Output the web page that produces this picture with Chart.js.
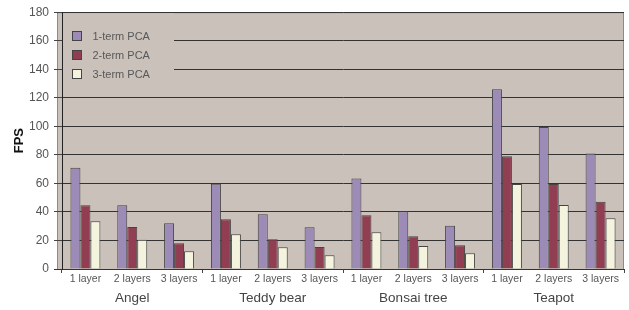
<!DOCTYPE html>
<html>
<head>
<meta charset="utf-8">
<script src="https://cdn.jsdelivr.net/npm/chart.js@4/dist/chart.umd.min.js"></script>
<style>
  html, body { margin: 0; padding: 0; background: #ffffff; }
  #wrap { width: 629px; height: 310px; position: relative; }
</style>
</head>
<body>
<div id="wrap"><canvas id="c" width="629" height="310"></canvas></div>
<script>
// ---- Data ----
const models = ["Angel", "Teddy bear", "Bonsai tree", "Teapot"];
const layers = ["1 layer", "2 layers", "3 layers"];
const seriesNames = ["1-term PCA", "2-term PCA", "3-term PCA"];
const pca1 = [71, 44.6, 32,   59.8, 38.3, 29.2,   63.5, 40.4, 30.3,   126, 99.5, 81];
const pca2 = [44.6, 29.4, 18, 34.8, 20.8, 15.4,   37.6, 22.9, 16.6,   79.1, 59.5, 47.1];
const pca3 = [33.4, 20.5, 12.4, 24.3, 15.2, 9.6,  25.7, 16.1, 11,     59.5, 44.8, 35.5];
const yTicks = [0, 20, 40, 60, 80, 100, 120, 140, 160, 180];

const subLabels = [];
models.forEach(() => layers.forEach(l => subLabels.push(l)));

const colors = ["#9D8BB7", "#913E52", "#F4F4DE"];
const plotBg = "#C9C1BA";
const FONT = "'Liberation Sans', Arial, sans-serif";

const bgPlugin = {
  id: 'bgPlugin',
  beforeDraw(chart) {
    const { ctx, chartArea: a } = chart;
    ctx.save();
    ctx.fillStyle = plotBg;
    ctx.fillRect(58, a.top, a.right - 58, a.bottom - a.top);
    ctx.strokeStyle = "#8a8a8a";
    ctx.lineWidth = 1;
    ctx.beginPath();
    ctx.moveTo(57.5, a.bottom); ctx.lineTo(57.5, a.top + 0.5);
    ctx.lineTo(a.right - 0.5, a.top + 0.5); ctx.lineTo(a.right - 0.5, a.bottom);
    ctx.stroke();
    ctx.restore();
  },
  afterDraw(chart) {
    const { ctx, chartArea: a } = chart;
    ctx.save();
    ctx.strokeStyle = "#333";
    ctx.lineWidth = 1;
    ctx.beginPath();
    ctx.moveTo(54, a.bottom + 0.5); ctx.lineTo(a.left, a.bottom + 0.5);
    ctx.stroke();
    ctx.restore();
  }
};

const legendPlugin = {
  id: 'boxLegend',
  afterDatasetsDraw(chart) {
    const { ctx, chartArea: a } = chart;
    ctx.save();
    ctx.fillStyle = plotBg;
    ctx.fillRect(a.left + 1, a.top + 1, 111, 72);
    chart.data.datasets.forEach((ds, i) => {
      const cy = 36 + i * 19.2;
      ctx.fillStyle = ds.backgroundColor;
      ctx.fillRect(72, Math.round(cy - 5), 10, 10);
      ctx.strokeStyle = "#444";
      ctx.lineWidth = 1;
      ctx.strokeRect(72.5, Math.round(cy - 5) + 0.5, 9, 9);
      ctx.fillStyle = "#595959";
      ctx.font = "11px " + FONT;
      ctx.textBaseline = "middle";
      ctx.textAlign = "left";
      ctx.fillText(ds.label, 92.5, cy + 0.5);
    });
    ctx.restore();
  }
};

const seriesData = [pca1, pca2, pca3];

new Chart(document.getElementById('c'), {
  type: 'bar',
  data: {
    labels: subLabels,
    datasets: seriesNames.map((name, i) => ({
      label: name,
      data: seriesData[i],
      backgroundColor: colors[i],
      borderColor: "#444",
      borderWidth: 1,
      categoryPercentage: 0.64,
      barPercentage: 1.0
    }))
  },
  options: {
    responsive: false,
    animation: false,
    devicePixelRatio: 1,
    layout: { padding: { left: 0, right: 5, top: 12, bottom: 0 } },
    plugins: { legend: { display: false }, tooltip: { enabled: false } },
    scales: {
      x: {
        type: 'category',
        position: 'bottom',
        offset: true,
        afterFit(s) { s.height = 18; },
        grid: {
          offset: true,
          drawOnChartArea: false,
          drawTicks: true,
          tickLength: 4,
          tickColor: (c) => (c.index === undefined || c.index % 3 === 0) ? '#444' : 'rgba(0,0,0,0)'
        },
        border: { display: true, color: '#333', width: 1 },
        ticks: {
          maxRotation: 0, autoSkip: false, padding: 0,
          color: '#555', font: { family: FONT, size: 10.5 }
        }
      },
      x2: {
        type: 'category',
        position: 'bottom',
        labels: models,
        offset: true,
        afterFit(s) { s.height = 23; },
        grid: { display: false, drawTicks: false, drawOnChartArea: false },
        border: { display: false },
        ticks: {
          maxRotation: 0, autoSkip: false, padding: 3,
          color: '#444', font: { family: FONT, size: 13.5 }
        }
      },
      y: {
        min: 0, max: 180,
        afterFit(s) { s.width = 62; },
        afterBuildTicks(s) { s.ticks = yTicks.map(v => ({ value: v })); },
        grid: { color: '#333', lineWidth: 1, tickLength: 8, tickColor: '#444' },
        border: { display: true, color: '#222', width: 1 },
        ticks: {
          stepSize: 20, padding: 5,
          color: '#555', font: { family: FONT, size: 12 }
        },
        title: {
          display: true, text: 'FPS',
          color: '#111', font: { family: FONT, size: 13, weight: 'bold' },
          padding: { top: 12, bottom: 0 }
        }
      }
    }
  },
  plugins: [bgPlugin, legendPlugin]
});
</script>
</body>
</html>
